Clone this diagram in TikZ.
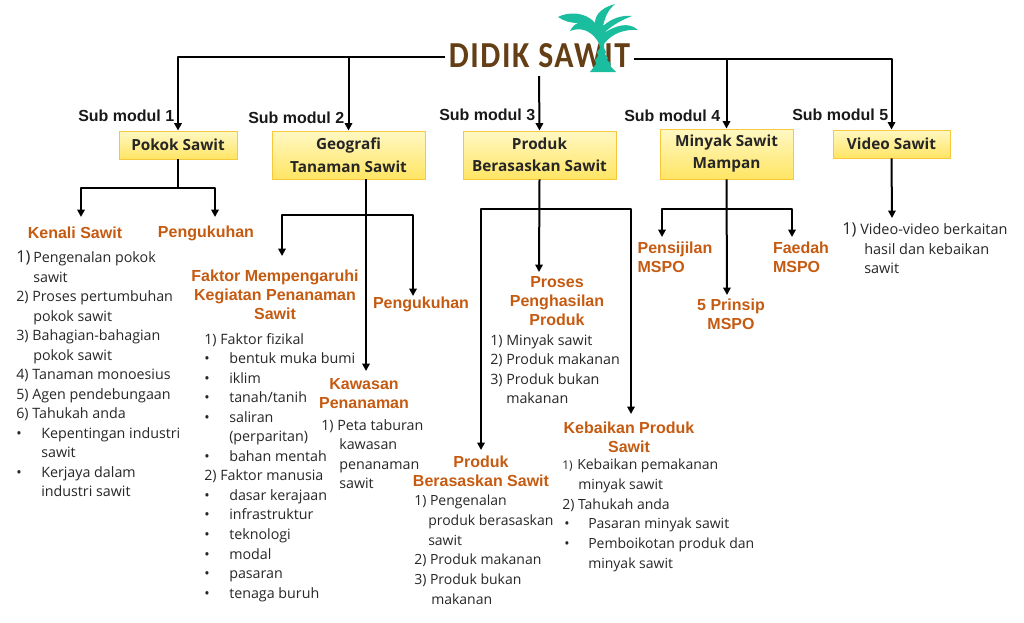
\documentclass[tikz,border=0pt]{standalone}
\usepackage{fontspec}
\setmainfont{Open Sans}
\newfontfamily\headf{Liberation Sans}
\newfontfamily\logof[LetterSpace=5]{Carlito}
\usetikzlibrary{shadows,arrows.meta}
\newcommand{\ind}[1]{\hspace*{#1\dimexpr0.75pt\relax}}
\newcommand{\bu}[2]{\makebox[#1\dimexpr0.75pt\relax][l]{•}#2}
\newcommand{\bign}[2]{\makebox[#1\dimexpr0.75pt\relax][l]{\fontsize{12.3}{14}\selectfont #2}}
\newcommand{\smalln}[2]{\makebox[#1\dimexpr0.75pt\relax][l]{\fontsize{9}{14}\selectfont #2}}
\newcommand{\lw}[2]{\raisebox{-#1pt}{#2}}
\definecolor{palm}{RGB}{26,190,158}
\definecolor{boxtop}{RGB}{255,248,195}
\definecolor{boxbot}{RGB}{255,229,100}
\definecolor{boxline}{RGB}{248,200,60}
\tikzset{
  x=0.75pt,y=-0.75pt,
  conn/.style={black,line width=1.5pt,line join=round},
  arr/.style={conn,-{Triangle[length=5.5pt,width=5.5pt]}},
  modbox/.style={draw=boxline,line width=0.7pt,top color=boxtop,bottom color=boxbot,drop shadow={shadow xshift=0.8pt,shadow yshift=-0.9pt,opacity=0.3,fill=black},font=\fontsize{11.5}{16.5}\selectfont\bfseries,align=center,inner sep=0pt,text=black!85},
  sub/.style={font=\headf\fontsize{12}{14}\selectfont\bfseries,inner sep=0pt,anchor=west,text=black!90},
  head/.style={font=\headf\fontsize{12}{14.3}\selectfont\bfseries,text={rgb,255:red,197;green,90;blue,17},inner sep=0pt,align=center},
  body/.style={font=\fontsize{10.7}{14.65}\selectfont,align=left,inner sep=0pt,anchor=north west,text=black!85},
  bodys/.style={body,font=\fontsize{10.5}{14.75}\selectfont},
}
\begin{document}
\begin{tikzpicture}
\useasboundingbox (0,0) rectangle (1024,622);
% root
\node[inner sep=0pt,text={rgb,255:red,100;green,62;blue,20}] (root) at (539.5,56) {\resizebox{136pt}{18pt}{\logof\bfseries DIDIK SAWIT}};
% boxes
\node[modbox,minimum width=88.5pt,minimum height=21pt] (b1) at (178,145) {\lw{0.75}{Pokok Sawit}};
\node[modbox,minimum width=114.75pt,minimum height=36pt] (b2) at (348.5,155) {\lw{0.75}{Geografi}\\\lw{1.5}{Tanaman Sawit}};
\node[modbox,minimum width=114.75pt,minimum height=36pt] (b3) at (539.5,155) {\lw{0.75}{Produk}\\\lw{0.75}{Berasaskan Sawit}};
\node[modbox,minimum width=99.75pt,minimum height=37.5pt] (b4) at (726.5,154) {\lw{1.5}{Minyak Sawit}\\\lw{1.5}{Mampan}};
\node[modbox,minimum width=87.75pt,minimum height=21pt] (b5) at (891.5,144) {\lw{0.75}{Video Sawit}};
% sub labels
\node[sub] (s1) at (78,116) {Sub modul 1};
\node[sub] (s2) at (248,118) {Sub modul 2};
\node[sub] (s3) at (439,115) {Sub modul 3};
\node[sub] (s4) at (624,116) {Sub modul 4};
\node[sub] (s5) at (792,115) {Sub modul 5};
% headings
\node[head] (h11) at (75,233) {Kenali Sawit};
\node[head] (h12) at (206,233) {Pengukuhan};
\node[head] (h21) at (275,295) {Faktor Mempengaruhi\\Kegiatan Penanaman\\Sawit};
\node[head] (h22) at (421,304) {Pengukuhan};
\node[head] (h23) at (364,394) {Kawasan\\Penanaman};
\node[head] (h31) at (481,471) {Produk\\Berasaskan Sawit};
\node[head] (h32) at (557,301) {Proses\\Penghasilan\\Produk};
\node[head] (h33) at (629,437) {Kebaikan Produk\\Sawit};
\node[head,align=left] (h41) at (675,257) {Pensijilan\\MSPO};
\node[head] (h42) at (731,314) {5 Prinsip\\MSPO};
\node[head,align=left] (h43) at (801,257) {Faedah\\MSPO};
% body
\node[body] (t1) at (16,250.5) {\bign{17}{1)}Pengenalan pokok\\\ind{17}sawit\\2) Proses pertumbuhan\\\ind{17}pokok sawit\\3) Bahagian-bahagian\\\ind{17}pokok sawit\\4) Tanaman monoesius\\5) Agen pendebungaan\\6) Tahukah anda\\\bu{25}{Kepentingan industri}\\\ind{25}sawit\\\bu{25}{Kerjaya dalam}\\\ind{25}industri sawit};
\node[body] (t2) at (204,333) {1) Faktor fizikal\\\bu{25}{bentuk muka bumi}\\\bu{25}{iklim}\\\bu{25}{tanah/tanih}\\\bu{25}{saliran}\\\ind{25}(perparitan)\\\bu{25}{bahan mentah}\\2) Faktor manusia\\\bu{25}{dasar kerajaan}\\\bu{25}{infrastruktur}\\\bu{25}{teknologi}\\\bu{25}{modal}\\\bu{25}{pasaran}\\\bu{25}{tenaga buruh}};
\node[body] (t3) at (321,419) {1) Peta taburan\\\ind{18}kawasan\\\ind{18}penanaman\\\ind{18}sawit};
\node[bodys] (t4) at (414,495) {1) Pengenalan\\\ind{14}produk berasaskan\\\ind{14}sawit\\2) Produk makanan\\3) Produk bukan\\\ind{17}makanan};
\node[body] (t5) at (490,334) {1) Minyak sawit\\2) Produk makanan\\3) Produk bukan\\\ind{16}makanan};
\node[bodys] (t6) at (562,459) {\smalln{15}{1)}Kebaikan pemakanan\\\ind{16}minyak sawit\\2) Tahukah anda\\\ind{2}\bu{24}{Pasaran minyak sawit}\\\ind{2}\bu{24}{Pemboikotan produk dan}\\\ind{26}minyak sawit};
\node[body,font=\fontsize{10.85}{14.65}\selectfont] (t7) at (842,222.5) {\bign{18}{1)}Video-video berkaitan\\\ind{22}hasil dan kebaikan\\\ind{22}sawit};
% connector helpers
\coordinate (j1) at (178,188);
\coordinate (j2) at (366,215);
\coordinate (j3) at (539,209);
\coordinate (j4) at (727,209);
\coordinate (e11) at (81,217);
\coordinate (e12) at (215,217);
\coordinate (e21) at (282,256);
\coordinate (e22) at (413,296);
\coordinate (e23) at (366,371);
\coordinate (e31) at (481,450);
\coordinate (e32) at (539,272);
\coordinate (e33) at (631,414);
\coordinate (e41) at (662,237);
\coordinate (e42) at (727,295);
\coordinate (e43) at (792,237);
\coordinate (e5) at (892,218);
\coordinate (b2s) at (366,179);
\coordinate (rl) at (445,57);
\coordinate (rr) at (634,59);
\coordinate (rm) at (539,76);
% connectors
\draw[arr] (rl) -| (b1.north);
\draw[arr] (rl) -| (b2.north);
\draw[arr] (rm) -- (b3.north);
\draw[arr] (rr) -| (b4.north);
\draw[arr] (rr) -| (b5.north);
\draw[conn] (b1.south) -- (j1);
\draw[arr] (j1) -| (e11);
\draw[arr] (j1) -| (e12);
\draw[arr] (b2s) -- (e23);
\draw[arr] (j2) -| (e21);
\draw[arr] (j2) -| (e22);
\draw[arr] (b3.south) -- (e32);
\draw[arr] (j3) -| (e31);
\draw[arr] (j3) -| (e33);
\draw[arr] (b4.south) -- (e42);
\draw[arr] (j4) -| (e41);
\draw[arr] (j4) -| (e43);
\draw[arr] (b5.south) -- (e5);
% palm
\fill[palm] (615,4) .. controls (607,11) and (605,18) .. (603,26)
 .. controls (612,18) and (622,15) .. (632,16)
 .. controls (622,20) and (612,25) .. (604,33)
 .. controls (615,26) and (628,21) .. (638,30)
 .. controls (625,29) and (612,33) .. (604,44)
 -- (604,48) -- (606,52) -- (605,54) -- (608,58) -- (607,60) -- (611,64) -- (610,66) -- (616,72)
 -- (590,72) -- (596,64) -- (595,60) -- (598,56) -- (597,52) -- (600,48) -- (599,44) -- (597,40)
 .. controls (590,30) and (580,27) .. (570,31)
 .. controls (572,27) and (575,24) .. (578,23)
 .. controls (570,23) and (564,21) .. (558,17)
 .. controls (567,12) and (585,11) .. (595,23)
 .. controls (595,13) and (604,7) .. (615,4) -- cycle;
\end{tikzpicture}
\end{document}
